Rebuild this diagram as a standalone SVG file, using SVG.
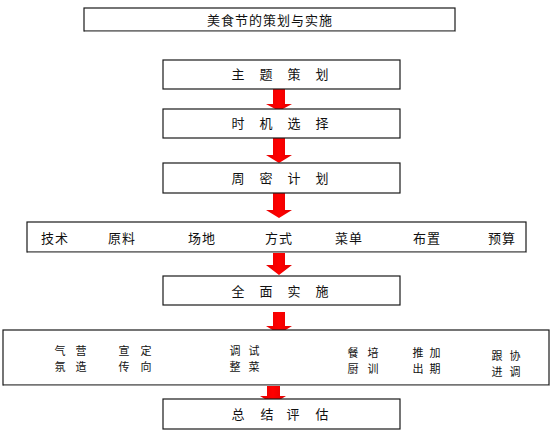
<svg xmlns="http://www.w3.org/2000/svg" width="553" height="431" viewBox="0 0 553 431">
<defs>
<style>
.box{fill:#fff;stroke:#1a1a1a;stroke-width:1.2}
.shadow{fill:none;stroke:#999;stroke-width:1.2}
.t{font-family:"Noto Sans CJK SC","Noto Sans CJK JP",sans-serif;font-size:13px;fill:#111;text-anchor:middle}
.s{font-size:11px}
.arrow{fill:url(#red)}
</style>
<linearGradient id="red" x1="0" y1="0" x2="1" y2="0">
<stop offset="0" stop-color="#e60000"/>
<stop offset="0.5" stop-color="#ff0000"/>
<stop offset="1" stop-color="#e00000"/>
</linearGradient>
</defs>
<rect width="553" height="431" fill="#fff"/>

<g id="connectors">
<polygon class="arrow" points="273,89 285,89 285,104 292,104 279,111 266,104 273,104"/>
<polygon class="arrow" points="273,138 285,138 285,155 292,155 279,163 266,155 273,155"/>
<polygon class="arrow" points="273,193 285,193 285,210 292,210 279,218 266,210 273,210"/>
<polygon class="arrow" points="273,252 285,252 285,265 292,265 279,275 266,265 273,265"/>
<polygon class="arrow" points="273,312 285,312 285,326 292,326 279,334 266,326 273,326"/>
<polygon class="arrow" points="267,381 280,381 280,396 286,396 273,404 260,396 267,396"/>
</g>

<g id="title">
<rect class="box" x="84" y="8" width="371" height="23"/>
<line class="shadow" x1="85" y1="31.5" x2="455" y2="31.5"/>
<text class="t" x="270" y="25" letter-spacing="1">美食节的策划与实施</text>
</g>

<g id="n1">
<rect class="box" x="163" y="60" width="237" height="29"/>
<text class="t" y="79"><tspan x="238">主</tspan><tspan x="266">题</tspan><tspan x="294">策</tspan><tspan x="322">划</tspan></text>
</g>

<g id="n2">
<rect class="box" x="163" y="109" width="237" height="29"/>
<text class="t" y="128"><tspan x="238">时</tspan><tspan x="266">机</tspan><tspan x="294">选</tspan><tspan x="322">择</tspan></text>
</g>

<g id="n3">
<rect class="box" x="163" y="163" width="237" height="30"/>
<text class="t" y="183"><tspan x="238">周</tspan><tspan x="266">密</tspan><tspan x="294">计</tspan><tspan x="322">划</tspan></text>
</g>

<g id="n4">
<rect class="box" x="27" y="222" width="499" height="30" stroke="#444"/>
<line class="shadow" x1="28" y1="252.5" x2="526" y2="252.5"/>
<text class="t" y="243" letter-spacing="1"><tspan x="55">技术</tspan><tspan x="122">原料</tspan><tspan x="202">场地</tspan><tspan x="279">方式</tspan><tspan x="349">菜单</tspan><tspan x="427">布置</tspan><tspan x="502">预算</tspan></text>
</g>

<g id="n5">
<rect class="box" x="163" y="276" width="237" height="29"/>
<text class="t" y="296"><tspan x="238">全</tspan><tspan x="266">面</tspan><tspan x="294">实</tspan><tspan x="322">施</tspan></text>
</g>

<g id="n6">
<rect class="box" x="3" y="330" width="546" height="55" stroke="#444"/>
<line class="shadow" x1="4" y1="385.5" x2="549" y2="385.5"/>
<text class="t s" y="355"><tspan x="60">气</tspan><tspan x="81">营</tspan><tspan x="124">宣</tspan><tspan x="146">定</tspan><tspan x="235">调</tspan><tspan x="254">试</tspan></text>
<text class="t s" y="371"><tspan x="60">氛</tspan><tspan x="81">造</tspan><tspan x="124">传</tspan><tspan x="146">向</tspan><tspan x="235">整</tspan><tspan x="254">菜</tspan></text>
<text class="t s" y="357"><tspan x="353">餐</tspan><tspan x="373">培</tspan><tspan x="418">推</tspan><tspan x="435">加</tspan></text>
<text class="t s" y="373"><tspan x="353">厨</tspan><tspan x="373">训</tspan><tspan x="418">出</tspan><tspan x="435">期</tspan></text>
<text class="t s" y="360"><tspan x="497">跟</tspan><tspan x="515">协</tspan></text>
<text class="t s" y="376"><tspan x="497">进</tspan><tspan x="515">调</tspan></text>
</g>

<g id="n7">
<rect class="box" x="163" y="399" width="237" height="30"/>
<text class="t" y="419"><tspan x="238">总</tspan><tspan x="267">结</tspan><tspan x="293">评</tspan><tspan x="322">估</tspan></text>
</g>
</svg>
